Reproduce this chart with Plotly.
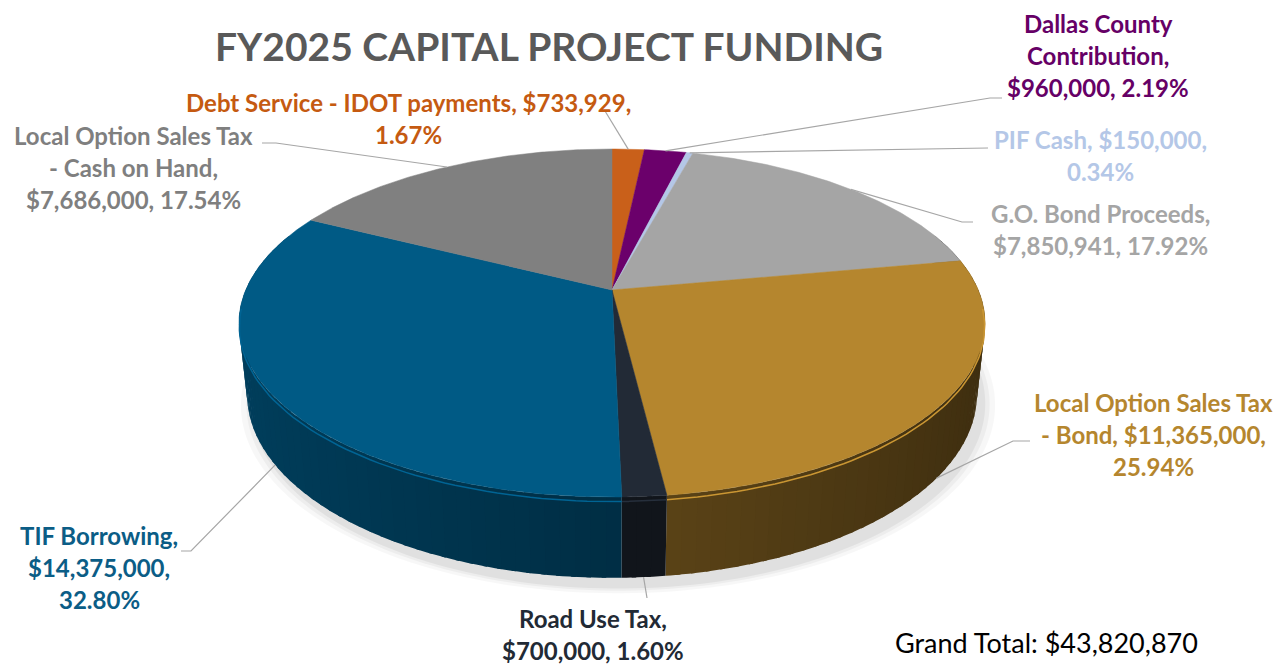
import numpy as np
import plotly.graph_objects as go

# ---- data ----
categories = ["Debt Service - IDOT payments", "Dallas County Contribution", "PIF Cash",
              "G.O. Bond Proceeds", "Local Option Sales Tax - Bond", "Road Use Tax",
              "TIF Borrowing", "Local Option Sales Tax - Cash on Hand"]
amounts = [733929, 960000, 150000, 7850941, 11365000, 700000, 14375000, 7686000]
label_templates = [
    "Debt Service - IDOT payments, {amt},|{pct}",
    "Dallas County|Contribution,|{amt}, {pct}",
    "PIF Cash, {amt},|{pct}",
    "G.O. Bond Proceeds,|{amt}, {pct}",
    "Local Option Sales Tax|- Bond, {amt},|{pct}",
    "Road Use Tax,|{amt}, {pct}",
    "TIF Borrowing,|{amt},|{pct}",
    "Local Option Sales Tax|- Cash on Hand,|{amt}, {pct}",
]
title = "FY2025 CAPITAL PROJECT FUNDING"

# ---- styling ----
top_colors = ["#C9601A", "#6B006B", "#B4C7E7", "#A5A5A5",
              "#B5862E", "#222A36", "#005A85", "#808080"]
text_colors = ["#C55A11", "#660066", "#B4C7E7", "#A5A5A5",
               "#B5862E", "#222A35", "#0B5D86", "#7F7F7F"]
label_pos = [(408, 102), (1098, 23), (1100, 139), (1100, 213),
             (1153, 402), (593, 618), (99, 535), (133, 135)]
leader_pts = [[(605, 111)], [(1002, 98), (990, 98)], [(988, 148)],
              [(973, 222), (962, 222)], [(1030, 441), (1013, 441)],
              [(647, 598)], [(181, 551), (191, 551)], [(262, 143), (276, 143)]]
LINE_STEP = 32
FONT = "Lato, 'Open Sans', sans-serif"
PAGE_PAD = 8  # browser body margin

# perspective camera for the 3d disc
CX, CY = 612, 290
F, D = 1716.0, 4.685
SIN_E, COS_E = 0.458, 0.889
DEPTH = 0.22


def project(theta, h=0.0):
    denom = D + h * SIN_E + COS_E * np.cos(theta)
    x = CX + F * np.sin(theta) / denom
    y = CY - F * (SIN_E * np.cos(theta) - h * COS_E) / denom
    return x, y


def shade(hexcol, k):
    r, g, b = (int(hexcol[i:i + 2], 16) for i in (1, 3, 5))
    return "rgb(%d,%d,%d)" % (min(255, r * k), min(255, g * k), min(255, b * k))


vals = np.array(amounts, dtype=float)
total = vals.sum()
shares = vals / total
edges = np.concatenate([[0], np.cumsum(shares)]) * 2 * np.pi

fig = go.Figure()

# soft shadow under the disc
for grow, alpha in [(1.035, 0.03), (1.02, 0.04), (1.008, 0.05)]:
    t = np.linspace(0, 2 * np.pi, 240)
    bx, by = project(t, DEPTH + 0.015)
    bx = CX + (bx - CX) * grow + 6
    by = by + (by - CY) * (grow - 1) * 0.6 + 4
    fig.add_trace(go.Scatter(x=bx, y=by, fill="toself", mode="none",
                             fillcolor="rgba(0,0,0,%s)" % alpha, hoverinfo="skip"))

# side walls (front part only), split into thin overlapping strips for shading
for i in range(len(amounts)):
    a, b = edges[i], edges[i + 1]
    lo, hi = max(a, np.radians(70)), min(b, np.radians(290))
    if lo >= hi:
        continue
    n = max(1, int(np.ceil(np.degrees(hi - lo) / 2.0)))
    cuts = np.linspace(lo, hi, n + 1)
    for j in range(n):
        end = min(cuts[j + 1] + np.radians(0.6), hi)
        t = np.linspace(cuts[j], end, 4)
        tx, ty = project(t, 0)
        bx, by = project(t[::-1], DEPTH)
        mid = 0.5 * (cuts[j] + cuts[j + 1])
        col = shade(top_colors[i], 0.52 - 0.18 * np.sin(mid))
        fig.add_trace(go.Scatter(x=np.r_[tx, bx], y=np.r_[ty, by], fill="toself",
                                 mode="none", fillcolor=col, hoverinfo="skip"))

# top faces
for i in range(len(amounts)):
    t = np.linspace(edges[i], edges[i + 1], max(3, int(np.degrees(edges[i + 1] - edges[i]) * 2)))
    ax, ay = project(t, 0)
    fig.add_trace(go.Scatter(x=np.r_[CX, ax, CX], y=np.r_[CY, ay, CY], fill="toself",
                             mode="lines", line=dict(color=top_colors[i], width=0.5),
                             fillcolor=top_colors[i], name=categories[i],
                             hovertemplate="%s<br>$%s<extra></extra>" % (categories[i], format(amounts[i], ","))))

# light rim highlight on the front edge
for i in range(len(amounts)):
    lo, hi = max(edges[i], np.radians(95)), min(edges[i + 1], np.radians(265))
    if lo >= hi:
        continue
    t = np.linspace(lo, hi, 60)
    rx, ry = project(t, 0.012)
    fig.add_trace(go.Scatter(x=rx, y=ry, mode="lines", hoverinfo="skip",
                             line=dict(color=shade(top_colors[i], 1.12), width=1.5)))

# leader lines and labels
for i in range(len(amounts)):
    mid = 0.5 * (edges[i] + edges[i + 1])
    px, py = project(mid, DEPTH if np.cos(mid) < 0 else 0)
    pts = leader_pts[i] + [(px, py)]
    fig.add_trace(go.Scatter(x=[p[0] for p in pts], y=[p[1] for p in pts], mode="lines",
                             line=dict(color="#A6A6A6", width=1.2), hoverinfo="skip"))
    txt = label_templates[i].format(amt="$" + format(amounts[i], ","),
                                    pct="%.2f%%" % (shares[i] * 100))
    lx, ly = label_pos[i]
    for k, line in enumerate(txt.split("|")):
        fig.add_annotation(x=lx, y=ly + k * LINE_STEP, xref="x", yref="y",
                           text="<b>%s</b>" % line, showarrow=False,
                           font=dict(family=FONT, size=24, color=text_colors[i]))

fig.add_annotation(x=549, y=46, xref="x", yref="y", text="<b>%s</b>" % title,
                   showarrow=False, font=dict(family=FONT, size=39, color="#595959"))
fig.add_annotation(x=1046, y=642, xref="x", yref="y",
                   text="Grand Total: $" + format(int(total), ","), showarrow=False,
                   font=dict(family=FONT, size=27, color="#000000"))

fig.update_layout(
    width=1287 - PAGE_PAD, height=671 - PAGE_PAD,
    margin=dict(l=0, r=0, t=0, b=0),
    paper_bgcolor="white", plot_bgcolor="white",
    showlegend=False,
    xaxis=dict(range=[PAGE_PAD, 1287], visible=False, fixedrange=True),
    yaxis=dict(range=[671, PAGE_PAD], visible=False, fixedrange=True),
)

fig.write_html("out.html")
